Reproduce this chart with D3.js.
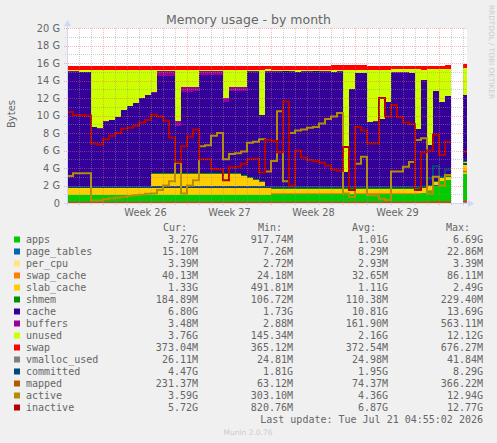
<!DOCTYPE html>
<html>
<head>
<meta charset="utf-8">
<script src="https://cdn.jsdelivr.net/npm/d3@7"></script>
<style>
  body { margin: 0; background: #f0f0f0; }
  svg { display: block; }
</style>
</head>
<body>
<div id="chart"></div>
<script>
// samples every 12h starting Fri Jun 19 2026 (values in GiB), null = no data
const sampleStart = Date.UTC(2026, 5, 19);
const sampleHours = 12;

const apps = [
  .92,.92,.92,.92,.92,.92,.92,.92,.92,.92,
  .92,.92,.92,.92,.92,.92,.92,.92,.92,.92,
  .92,.92,.92,.92,.92,.92,.92,.92,.92,.92,
  .92,.92,.92,.93,1.05,1.05,1.05,1.05,1.05,1.05,
  1.05,1.05,1.05,1.05,1.05,1.05,1.04,1.04,1.05,1.05,
  1.05,1.05,1.05,1.05,1.06,1.06,1.06,1.06,1.06,1.15,
  1.4,2.0,2.5,2.6,null,null,3.27
];
const pageTables = [
  .008,.008,.008,.008,.008,.008,.008,.008,.008,.008,
  .008,.008,.008,.008,.008,.008,.008,.008,.008,.008,
  .008,.008,.008,.008,.008,.008,.008,.008,.008,.008,
  .008,.008,.008,.008,.008,.008,.008,.008,.008,.008,
  .008,.008,.008,.008,.008,.008,.008,.008,.008,.008,
  .008,.008,.008,.008,.008,.008,.008,.008,.008,.009,
  .012,.012,.013,.013,null,null,.015
];
const perCpu = [
  .0028,.0028,.0028,.0028,.0028,.0028,.0028,.0028,.0028,.0028,
  .0028,.0028,.0028,.0028,.0028,.0028,.0028,.0028,.0028,.0028,
  .0028,.0028,.0028,.0028,.0028,.0028,.0028,.0028,.0028,.0028,
  .0028,.0028,.0028,.0028,.003,.003,.003,.003,.003,.003,
  .003,.003,.003,.003,.003,.003,.003,.003,.003,.003,
  .003,.003,.003,.003,.003,.003,.003,.003,.003,.003,
  .003,.003,.003,.003,null,null,.0034
];
const swapCache = [
  .03,.03,.03,.03,.03,.03,.03,.03,.03,.03,
  .03,.03,.03,.03,.03,.03,.03,.03,.03,.03,
  .03,.03,.03,.03,.03,.03,.03,.03,.03,.03,
  .03,.03,.03,.03,.03,.03,.03,.03,.03,.03,
  .03,.03,.03,.03,.03,.03,.03,.03,.03,.03,
  .03,.03,.03,.03,.03,.03,.03,.03,.03,.03,
  .035,.04,.04,.04,null,null,.04
];
const slabCache = [
  .85,.85,.85,.85,.85,.85,.85,.85,.85,.85,
  .85,.85,.85,.85,2.3,2.37,2.37,2.37,2.37,2.37,
  2.37,2.37,2.37,2.37,2.37,2.37,2.37,2.37,2.3,2.1,
  1.9,1.7,1.4,.9,.5,.5,.5,.5,.5,.5,
  .5,.5,.5,.5,.5,.5,.5,.5,.5,.5,
  .5,.5,.5,.5,.5,.5,.5,.5,.5,.5,
  .45,.4,.35,.35,null,null,1.33
];
const shmem = [
  .11,.11,.11,.11,.11,.11,.11,.11,.11,.11,
  .11,.11,.11,.11,.12,.12,.12,.12,.12,.12,
  .12,.12,.12,.12,.12,.12,.12,.12,.12,.12,
  .12,.12,.12,.12,.11,.11,.11,.11,.11,.11,
  .11,.11,.11,.11,.11,.11,.11,.11,.11,.11,
  .11,.11,.11,.11,.11,.11,.11,.11,.11,.11,
  .11,.11,.11,.11,null,null,.18
];
const cache = [
  13.08,13.08,13.03,13.03,6.78,6.58,7.38,7.58,7.88,8.68,
  9.18,9.48,10.08,10.38,9.22,11.05,11.05,11.05,5.35,9.25,
  9.25,9.35,11.15,11.15,11.15,11.15,8.05,9.35,9.42,9.62,
  12.02,12.22,7.52,13.02,13.3,13.3,13.35,13.3,13.25,13.3,
  13.3,13.35,13.3,13.3,13.25,13.3,1.8,11.3,13.1,13.1,
  7.5,7.6,7.9,9.8,13.2,13.2,13.2,13.1,6.7,12.2,
  4.6,10.25,8.5,9.1,null,null,7.46
];
const buffers = [
  .04,.04,.04,.04,.04,.04,.04,.04,.04,.04,
  .04,.04,.04,.04,.04,.55,.55,.55,.55,.5,
  .5,.5,.45,.45,.45,.45,.55,.45,.45,.45,
  .03,.03,.03,.03,.03,.03,.03,.03,.03,.03,
  .03,.03,.03,.03,.03,.03,.03,.03,.03,.03,
  .03,.03,.03,.03,.03,.03,.03,.03,.03,.03,
  .03,.03,.03,.03,null,null,.0035
];
const unused = [
  .21,.21,.26,.26,6.51,6.71,5.91,5.71,5.41,4.61,
  4.11,3.81,3.21,2.91,2.61,.2,.2,.2,5.9,2.05,
  2.05,1.95,.2,.2,.2,.2,3.2,2.0,2.0,2.0,
  .22,.22,5.22,.22,.22,.22,.17,.22,.27,.22,
  .22,.17,.22,.22,.27,.22,11.72,2.22,.42,.42,
  6.02,5.92,5.62,3.72,.32,.32,.32,.42,6.82,1.22,
  8.62,2.42,3.72,3.02,null,null,3.15
];
const swap = [
  .37,.37,.37,.37,.37,.37,.37,.37,.37,.37,
  .37,.37,.37,.37,.37,.37,.37,.37,.37,.37,
  .37,.37,.37,.37,.37,.37,.37,.37,.37,.37,
  .37,.37,.37,.37,.37,.37,.37,.37,.37,.37,
  .37,.37,.37,.37,.52,.52,.52,.52,.52,.52,
  .37,.37,.37,.37,.37,.37,.37,.37,.37,.37,
  .37,.37,.37,.55,null,null,.45
];
const vmallocUsed = [
  .025,.025,.025,.025,.025,.025,.025,.025,.025,.025,
  .025,.025,.025,.025,.025,.025,.025,.025,.025,.025,
  .025,.025,.025,.025,.025,.025,.025,.025,.025,.025,
  .025,.025,.025,.025,.025,.025,.025,.025,.025,.025,
  .025,.025,.025,.025,.025,.025,.025,.025,.025,.025,
  .025,.025,.025,.025,.025,.025,.025,.025,.025,.025,
  .025,.025,.025,.025,null,null,.026
];
const committed = [
  1.82,1.82,1.82,1.82,1.82,1.82,1.82,1.82,1.82,1.82,
  1.82,1.82,1.82,1.82,1.83,1.83,1.83,1.83,1.83,1.83,
  1.83,1.83,1.83,1.83,1.83,1.83,1.83,1.83,1.83,1.83,
  1.82,1.82,1.82,1.82,1.82,1.82,1.82,1.82,1.82,1.82,
  1.82,1.82,1.82,1.82,1.82,1.82,1.82,1.82,1.82,1.82,
  1.82,1.82,1.82,1.82,1.82,1.82,1.82,1.82,1.82,1.9,
  2.8,4.2,3.0,3.8,null,null,4.47
];
const mapped = [
  .065,.065,.065,.065,.065,.065,.065,.065,.065,.065,
  .065,.065,.065,.065,.065,.065,.065,.065,.065,.065,
  .065,.065,.065,.065,.065,.065,.065,.065,.065,.065,
  .065,.065,.065,.065,.065,.065,.065,.065,.065,.065,
  .065,.065,.065,.065,.065,.065,.065,.065,.065,.065,
  .065,.065,.065,.065,.065,.065,.065,.065,.065,.065,
  .09,.11,.12,.12,null,null,.23
];
const active = [
  3.1,3.4,3.4,3.4,.3,.3,.45,.55,.6,.7,
  .8,.9,.95,1.05,1.1,1.5,2.0,2.5,4.6,1.1,
  2.0,2.6,6.5,6.6,7.7,8.0,5.0,5.6,5.7,5.9,
  6.9,7.0,7.3,3.6,4.8,10.5,2.5,8.0,8.3,8.4,
  8.6,8.7,9.1,9.6,9.9,10.3,1.1,.7,4.5,5.3,
  .9,.85,.5,.35,3.6,3.6,4.15,4.7,7.2,7.4,
  1.1,3.0,2.0,3.2,null,null,3.59
];
const inactive = [
  10.4,10.05,10.05,10.0,6.8,6.7,7.3,7.7,8.0,8.5,
  8.6,8.8,9.2,9.5,10.1,9.9,9.4,7.5,4.7,6.5,
  7.6,8.4,5.0,5.0,3.9,3.85,2.6,4.1,4.15,4.5,
  5.0,5.05,3.5,7.2,7.1,5.8,11.6,2.0,6.0,5.2,
  4.9,4.8,4.6,4.3,3.8,3.7,6.4,1.5,8.7,8.3,
  6.8,6.8,12.0,9.9,11.2,9.8,9.2,9.0,1.5,5.8,
  6.0,7.8,5.5,7.0,null,null,5.9
];

// axis labels
const yTickValues = [0, 2, 4, 6, 8, 10, 12, 14, 16, 18, 20];
const yTickLabels = ["0", "2 G", "4 G", "6 G", "8 G", "10 G", "12 G", "14 G", "16 G", "18 G", "20 G"];
const weekStarts = ["2026-06-22", "2026-06-29", "2026-07-06", "2026-07-13", "2026-07-20"];
const weekLabels = ["Week 26", "Week 27", "Week 28", "Week 29"];

// legend
const legendNames = ["apps", "page_tables", "per_cpu", "swap_cache", "slab_cache", "shmem", "cache", "buffers",
  "unused", "swap", "vmalloc_used", "committed", "mapped", "active", "inactive"];
const legendColors = ["#00CC00", "#0066B3", "#FFE680", "#FF8000", "#FFCC00", "#008F00", "#330099", "#990099",
  "#CCFF00", "#FF0000", "#808080", "#00487D", "#B35A00", "#B38F00", "#B30000"];
const curVals = ["3.27G", "15.10M", "3.39M", "40.13M", "1.33G", "184.89M", "6.80G", "3.48M", "3.76G", "373.04M",
  "26.11M", "4.47G", "231.37M", "3.59G", "5.72G"];
const minVals = ["917.74M", "7.26M", "2.72M", "24.18M", "491.81M", "106.72M", "1.73G", "2.88M", "145.34M", "365.12M",
  "24.81M", "1.81G", "63.12M", "303.10M", "820.76M"];
const avgVals = ["1.01G", "8.29M", "2.93M", "32.65M", "1.11G", "110.38M", "10.81G", "161.90M", "2.16G", "372.54M",
  "24.98M", "1.95G", "74.37M", "4.36G", "6.87G"];
const maxVals = ["6.69G", "22.86M", "3.39M", "86.11M", "2.49G", "229.40M", "13.69G", "563.11M", "12.12G", "676.27M",
  "41.84M", "8.29G", "366.22M", "12.94G", "12.77G"];

const W = 497, H = 443;
const plot = { left: 67, right: 467, top: 28, bottom: 203 };
const stepMs = sampleHours * 3600 * 1000;
const tAt = i => new Date(sampleStart + i * stepMs);

const svg = d3.select("#chart").append("svg")
  .attr("width", W).attr("height", H)
  .style("font-family", "'DejaVu Sans', sans-serif");

svg.append("rect").attr("width", W).attr("height", H).attr("fill", "#f0f0f0");
svg.append("rect")
  .attr("x", plot.left).attr("y", plot.top)
  .attr("width", plot.right - plot.left).attr("height", plot.bottom - plot.top)
  .attr("fill", "#ffffff");

const x = d3.scaleUtc()
  .domain([new Date(sampleStart), new Date(sampleStart + 33.3333 * 86400000)])
  .range([plot.left, plot.right]);
const y = d3.scaleLinear().domain([0, 20]).range([plot.bottom, plot.top]);

svg.append("clipPath").attr("id", "clip")
  .append("rect").attr("x", plot.left).attr("y", plot.top - 8)
  .attr("width", plot.right - plot.left).attr("height", plot.bottom - plot.top + 10);

const g = svg.append("g").attr("clip-path", "url(#clip)");

// stacked areas
const areaKeys = ["apps", "page_tables", "per_cpu", "swap_cache", "slab_cache", "shmem", "cache", "buffers", "unused", "swap"];
const areaData = {
  apps, page_tables: pageTables, per_cpu: perCpu, swap_cache: swapCache, slab_cache: slabCache,
  shmem, cache, buffers, unused, swap
};
const color = {};
legendNames.forEach((n, i) => color[n] = legendColors[i]);

const rows = apps.map((v, i) => {
  const r = { i, ok: v != null };
  areaKeys.forEach(k => r[k] = areaData[k][i] == null ? 0 : areaData[k][i]);
  return r;
});
const stacked = d3.stack().keys(areaKeys)(rows);

// each sample covers its own 12h slot
const area = d3.area()
  .defined(p => p.ok)
  .x(p => x(p.t))
  .y0(p => y(p.y0))
  .y1(p => y(p.y1));

g.selectAll(".layer")
  .data(stacked)
  .enter().append("path")
  .attr("class", "layer")
  .attr("fill", s => color[s.key])
  .attr("shape-rendering", "crispEdges")
  .attr("d", s => area(s.flatMap((d, i) => [
    { t: tAt(i), y0: d[0], y1: d[1], ok: d.data.ok },
    { t: tAt(i + 1), y0: d[0], y1: d[1], ok: d.data.ok }
  ])));

// lines
const lineSeries = [
  { key: "vmalloc_used", values: vmallocUsed },
  { key: "committed", values: committed },
  { key: "mapped", values: mapped },
  { key: "active", values: active },
  { key: "inactive", values: inactive }
];
const line = d3.line()
  .defined(p => p.v != null)
  .x(p => x(p.t))
  .y(p => y(p.v));

g.selectAll(".ln")
  .data(lineSeries)
  .enter().append("path")
  .attr("class", "ln")
  .attr("fill", "none")
  .attr("stroke", s => color[s.key])
  .attr("stroke-width", 2)
  .attr("d", s => line(s.values.flatMap((v, i) => [{ t: tAt(i), v }, { t: tAt(i + 1), v }])));

// grid on top, like rrdtool
const grid = svg.append("g").attr("fill", "none").attr("stroke-width", 1)
  .attr("stroke-dasharray", "1,1").attr("shape-rendering", "crispEdges");
const majorDays = weekStarts.map(s => new Date(s + "T00:00:00Z"));
const majorSet = new Set(majorDays.map(d => +d));
const days = d3.utcDay.range(x.domain()[0], x.domain()[1]);
const minorStroke = "rgba(150,150,150,0.45)";
const majorStroke = "rgba(255,90,90,0.45)";

grid.selectAll(".vmin")
  .data(days.filter(d => !majorSet.has(+d)))
  .enter().append("line")
  .attr("x1", d => Math.round(x(d)) + 0.5).attr("x2", d => Math.round(x(d)) + 0.5)
  .attr("y1", plot.top).attr("y2", plot.bottom + 2)
  .attr("stroke", minorStroke);

const yMinor = d3.range(1, 20, 2);
grid.selectAll(".hmin")
  .data(yMinor)
  .enter().append("line")
  .attr("x1", plot.left - 2).attr("x2", plot.right)
  .attr("y1", d => Math.round(y(d)) + 0.5).attr("y2", d => Math.round(y(d)) + 0.5)
  .attr("stroke", minorStroke);

grid.selectAll(".vmaj")
  .data(majorDays)
  .enter().append("line")
  .attr("x1", d => Math.round(x(d)) + 0.5).attr("x2", d => Math.round(x(d)) + 0.5)
  .attr("y1", plot.top).attr("y2", plot.bottom + 3)
  .attr("stroke", majorStroke);

grid.selectAll(".hmaj")
  .data(yTickValues.filter(v => v > 0))
  .enter().append("line")
  .attr("x1", plot.left - 3).attr("x2", plot.right)
  .attr("y1", d => Math.round(y(d)) + 0.5).attr("y2", d => Math.round(y(d)) + 0.5)
  .attr("stroke", majorStroke);

// axis lines + arrows
const axisColor = "#CFD6F8";
svg.append("line").attr("x1", plot.left - 3).attr("x2", plot.right + 2)
  .attr("y1", plot.bottom + 0.5).attr("y2", plot.bottom + 0.5).attr("stroke", axisColor);
svg.append("path").attr("d", `M${plot.right + 1},${plot.bottom - 3}L${plot.right + 7},${plot.bottom + 0.5}L${plot.right + 1},${plot.bottom + 4}Z`)
  .attr("fill", axisColor);
svg.append("line").attr("x1", plot.left + 0.5).attr("x2", plot.left + 0.5)
  .attr("y1", plot.bottom + 3).attr("y2", plot.top - 3).attr("stroke", axisColor);
svg.append("path").attr("d", `M${plot.left - 3},${plot.top - 2}L${plot.left + 0.5},${plot.top - 8}L${plot.left + 4},${plot.top - 2}Z`)
  .attr("fill", axisColor);

// y axis labels
svg.append("g")
  .attr("transform", `translate(${plot.left},0)`)
  .call(d3.axisLeft(y).tickValues(yTickValues).tickFormat((d, i) => yTickLabels[i]).tickSize(0).tickPadding(7))
  .call(a => a.select(".domain").remove())
  .call(a => a.selectAll("text").attr("fill", "#666").style("font-size", "9.8px").style("font-family", "'DejaVu Sans', sans-serif"));

// x axis labels at mid-week
const labelDates = weekLabels.map((l, i) => new Date((+majorDays[i] + +majorDays[i + 1]) / 2));
svg.append("g")
  .attr("transform", `translate(0,${plot.bottom})`)
  .call(d3.axisBottom(x).tickValues(labelDates).tickFormat((d, i) => weekLabels[i]).tickSize(0).tickPadding(6))
  .call(a => a.select(".domain").remove())
  .call(a => a.selectAll("text").attr("fill", "#666").style("font-size", "9.8px").style("font-family", "'DejaVu Sans', sans-serif"));

// title and side texts
svg.append("text").attr("x", 248.5).attr("y", 24).attr("text-anchor", "middle")
  .attr("fill", "#666").style("font-size", "12.5px").text("Memory usage - by month");
svg.append("text").attr("transform", "translate(15,114) rotate(-90)").attr("text-anchor", "middle")
  .attr("fill", "#666").style("font-size", "10px").text("Bytes");
svg.append("text").attr("transform", "translate(489,5) rotate(90)")
  .attr("fill", "#cccccc").style("font-size", "7.3px").text("RRDTOOL / TOBI OETIKER");

// legend
const mono = "'DejaVu Sans Mono', monospace";
const leg = svg.append("g").style("font-family", mono).style("font-size", "10px").attr("fill", "#666");
const colRight = [198, 293, 388, 483];
const headRight = [187, 282, 376, 470];
["Cur:", "Min:", "Avg:", "Max:"].forEach((h, i) =>
  leg.append("text").attr("x", headRight[i]).attr("y", 231).attr("text-anchor", "end").text(h));

const rowsG = leg.selectAll(".row").data(legendNames).enter().append("g")
  .attr("transform", (d, i) => `translate(0,${243 + i * 12})`);
rowsG.append("rect").attr("x", 14).attr("y", -6.5).attr("width", 6).attr("height", 6)
  .attr("fill", (d, i) => legendColors[i]);
rowsG.append("text").attr("x", 26).text(d => d);
[curVals, minVals, avgVals, maxVals].forEach((vals, c) =>
  rowsG.append("text").attr("x", colRight[c]).attr("text-anchor", "end").text((d, i) => vals[i]));

leg.append("text").attr("x", 483).attr("y", 423).attr("text-anchor", "end")
  .text("Last update: Tue Jul 21 04:55:02 2026");
svg.append("text").attr("x", 248).attr("y", 435).attr("text-anchor", "middle")
  .attr("fill", "#cccccc").style("font-size", "7.5px").text("Munin 2.0.76");
</script>
</body>
</html>
